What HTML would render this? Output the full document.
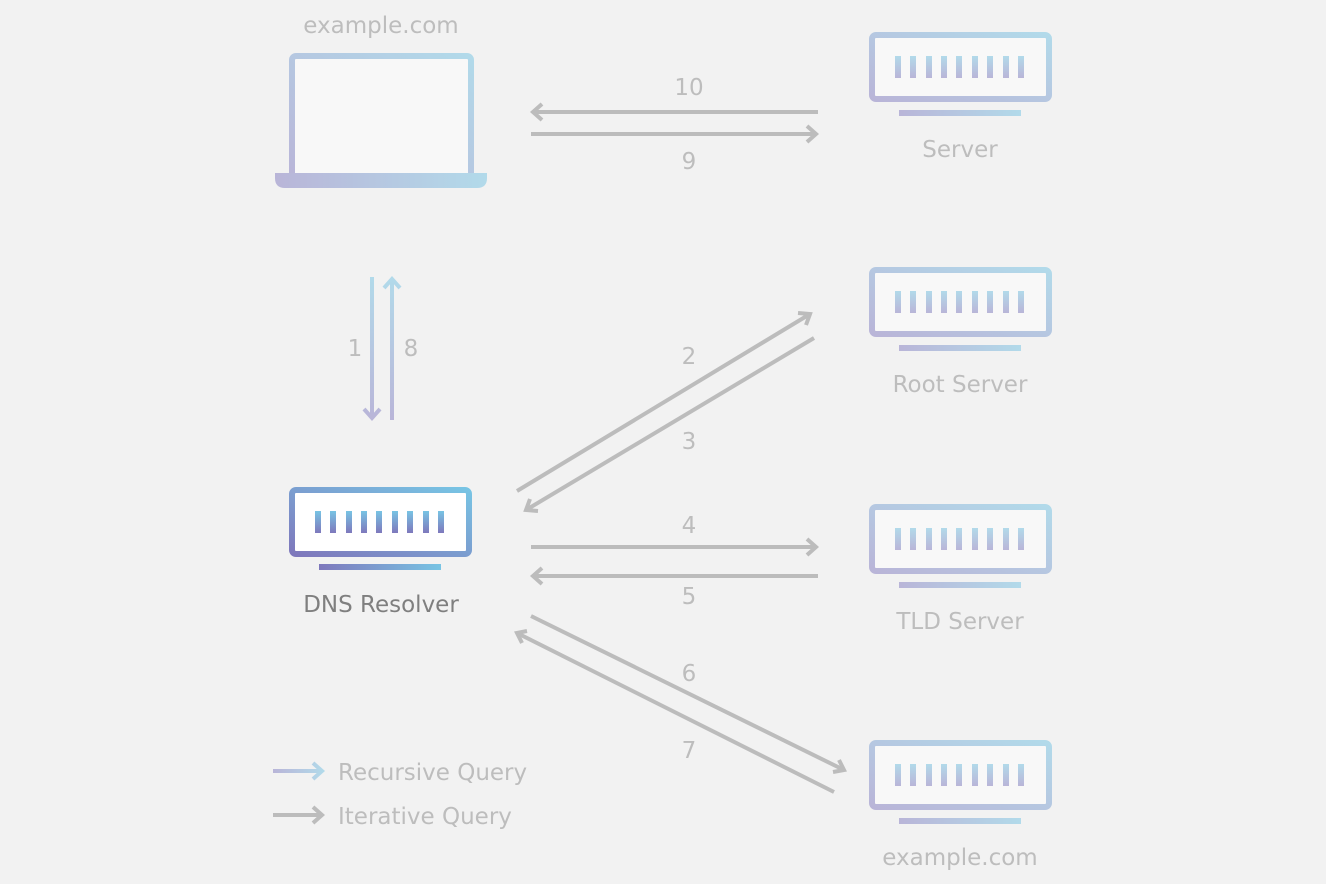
<!DOCTYPE html>
<html><head><meta charset="utf-8"><style>
html,body{margin:0;padding:0;background:#f2f2f2;}
svg{display:block;}
text{font-family:"DejaVu Sans","Liberation Sans",sans-serif;font-size:23px;fill:#bdbdbd;}
</style></head><body>
<svg width="1326" height="884" viewBox="0 0 1326 884" xmlns="http://www.w3.org/2000/svg">
<defs>
<linearGradient id="lg" x1="0" y1="1" x2="1" y2="0"><stop offset="0" stop-color="#b9b5d8"/><stop offset="1" stop-color="#b2daea"/></linearGradient>
<linearGradient id="lgh" x1="0" y1="0" x2="1" y2="0"><stop offset="0" stop-color="#b9b5d8"/><stop offset="1" stop-color="#b2daea"/></linearGradient>
<linearGradient id="bar" x1="0" y1="0" x2="0" y2="1"><stop offset="0" stop-color="#b2daea"/><stop offset="1" stop-color="#b9b5d8"/></linearGradient>
<linearGradient id="dg" x1="0" y1="1" x2="1" y2="0"><stop offset="0" stop-color="#7e78bc"/><stop offset="1" stop-color="#78c4e4"/></linearGradient>
<linearGradient id="dgh" x1="0" y1="0" x2="1" y2="0"><stop offset="0" stop-color="#7e78bc"/><stop offset="1" stop-color="#78c4e4"/></linearGradient>
<linearGradient id="dbar" x1="0" y1="0" x2="0" y2="1"><stop offset="0" stop-color="#78c4e4"/><stop offset="1" stop-color="#7e78bc"/></linearGradient>
<linearGradient id="vg" gradientUnits="userSpaceOnUse" x1="0" y1="420" x2="0" y2="277"><stop offset="0" stop-color="#b9b5d8"/><stop offset="1" stop-color="#b2daea"/></linearGradient>
<linearGradient id="leg" gradientUnits="userSpaceOnUse" x1="273" y1="0" x2="324" y2="0"><stop offset="0" stop-color="#b9b5d8"/><stop offset="1" stop-color="#b2daea"/></linearGradient>
<g id="srv">
<rect x="3" y="3" width="177" height="64" rx="4" fill="#f8f8f8" stroke="url(#lg)" stroke-width="6"/>
<g fill="url(#bar)">
<rect x="26" y="24" width="6" height="22"/><rect x="41" y="24" width="6" height="22"/><rect x="57" y="24" width="6" height="22"/><rect x="72" y="24" width="6" height="22"/><rect x="87" y="24" width="6" height="22"/><rect x="103" y="24" width="6" height="22"/><rect x="118" y="24" width="6" height="22"/><rect x="134" y="24" width="6" height="22"/><rect x="149" y="24" width="6" height="22"/>
</g>
<rect x="30" y="78" width="122" height="6" fill="url(#lgh)"/>
</g>
</defs>

<text x="381" y="33" text-anchor="middle" font-size="24">example.com</text>
<rect x="292" y="56" width="179" height="122" rx="4" fill="#f8f8f8" stroke="url(#lg)" stroke-width="6"/>
<path d="M275 173 H487 V178 Q487 188 477 188 H285 Q275 188 275 178 Z" fill="url(#lgh)"/>

<use href="#srv" x="869" y="32"/>
<text x="960" y="157" text-anchor="middle">Server</text>
<use href="#srv" x="869" y="267"/>
<text x="960" y="392" text-anchor="middle">Root Server</text>
<use href="#srv" x="869" y="504"/>
<text x="960" y="629" text-anchor="middle">TLD Server</text>
<use href="#srv" x="869" y="740"/>
<text x="960" y="865" text-anchor="middle">example.com</text>

<g transform="translate(289,487)">
<rect x="3" y="3" width="177" height="64" rx="4" fill="#ffffff" stroke="url(#dg)" stroke-width="6"/>
<g fill="url(#dbar)">
<rect x="26" y="24" width="6" height="22"/><rect x="41" y="24" width="6" height="22"/><rect x="57" y="24" width="6" height="22"/><rect x="72" y="24" width="6" height="22"/><rect x="87" y="24" width="6" height="22"/><rect x="103" y="24" width="6" height="22"/><rect x="118" y="24" width="6" height="22"/><rect x="134" y="24" width="6" height="22"/><rect x="149" y="24" width="6" height="22"/>
</g>
<rect x="30" y="77" width="122" height="6" fill="url(#dgh)"/>
</g>
<text x="381" y="612" text-anchor="middle" style="fill:#7f7f7f">DNS Resolver</text>

<g stroke="#bcbcbc" stroke-width="4" fill="none">
<line x1="818" y1="112" x2="533" y2="112"/><polyline points="542,104 533,112 542,120"/>
<line x1="531" y1="134" x2="816" y2="134"/><polyline points="807,126 816,134 807,142"/>
<line x1="517" y1="491" x2="810" y2="314"/><polyline points="798,313 810,314 806,325"/>
<line x1="814" y1="338" x2="526" y2="510"/><polyline points="538,511 526,510 530,499"/>
<line x1="531" y1="547" x2="816" y2="547"/><polyline points="807,539 816,547 807,555"/>
<line x1="818" y1="576" x2="533" y2="576"/><polyline points="542,568 533,576 542,584"/>
<line x1="531" y1="616" x2="844" y2="770"/><polyline points="833,772 844,770 839,760"/>
<line x1="834" y1="792" x2="517" y2="633"/><polyline points="527,631 517,633 522,643"/>
<line x1="273" y1="815" x2="322" y2="815"/><polyline points="313,807 322,815 313,823"/>
</g>
<g stroke="url(#vg)" stroke-width="4" fill="none">
<line x1="372" y1="277" x2="372" y2="418"/><polyline points="364,409 372,418 380,409"/>
<line x1="392" y1="420" x2="392" y2="279"/><polyline points="384,288 392,279 400,288"/>
</g>
<g stroke="url(#leg)" stroke-width="4" fill="none">
<line x1="273" y1="771" x2="322" y2="771"/><polyline points="313,763 322,771 313,779"/>
</g>

<text x="689" y="95" text-anchor="middle">10</text>
<text x="689" y="169" text-anchor="middle">9</text>
<text x="355" y="356" text-anchor="middle">1</text>
<text x="411" y="356" text-anchor="middle">8</text>
<text x="689" y="364" text-anchor="middle">2</text>
<text x="689" y="449" text-anchor="middle">3</text>
<text x="689" y="533" text-anchor="middle">4</text>
<text x="689" y="604" text-anchor="middle">5</text>
<text x="689" y="681" text-anchor="middle">6</text>
<text x="689" y="758" text-anchor="middle">7</text>
<text x="338" y="780" font-size="24">Recursive Query</text>
<text x="338" y="824" font-size="24">Iterative Query</text>
</svg>
</body></html>
